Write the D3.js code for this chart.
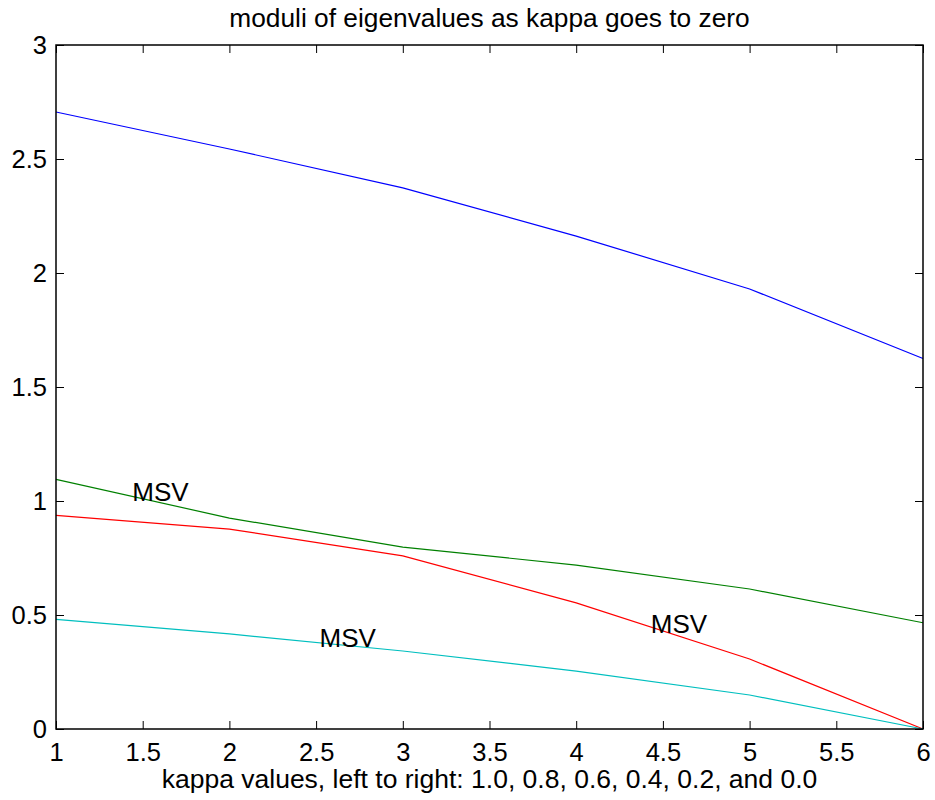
<!DOCTYPE html>
<html>
<head>
<meta charset="utf-8">
<script src="https://cdn.jsdelivr.net/npm/d3@7"></script>
<style>
  body { margin: 0; background: #fff; }
  svg text { font-family: "Liberation Sans", Arial, sans-serif; fill: #000; }
</style>
</head>
<body>
<div id="chart"></div>
<script>
// x positions 1..6 correspond to kappa 1.0, 0.8, ..., 0.0
var xs = [1, 2, 3, 4, 5, 6];
var blueVals = [2.706, 2.544, 2.373, 2.162, 1.930, 1.625];
var greenVals = [1.095, 0.925, 0.798, 0.719, 0.614, 0.466];
var redVals = [0.937, 0.877, 0.759, 0.553, 0.307, 0.0];
var cyanVals = [0.481, 0.417, 0.342, 0.254, 0.149, 0.0];
var seriesColors = ['#0000ff', '#008000', '#ff0000', '#00bfbf'];
var xTicks = [1, 1.5, 2, 2.5, 3, 3.5, 4, 4.5, 5, 5.5, 6];
var yTicks = [0, 0.5, 1, 1.5, 2, 2.5, 3];
var labelText = ['MSV', 'MSV', 'MSV'];
var labelX = [1.44, 2.52, 4.43];
var labelY = [1.04, 0.40, 0.46];

var M = {t: 45, r: 12, b: 71, l: 56};
var W = 935 - M.l - M.r, H = 800 - M.t - M.b;

var svg = d3.select('#chart').append('svg')
    .attr('width', 935).attr('height', 800);
var g = svg.append('g').attr('transform', 'translate(' + M.l + ',' + M.t + ')');

var scaleX = d3.scaleLinear().domain([1, 6]).range([0, W]);
var scaleY = d3.scaleLinear().domain([0, 3]).range([H, 0]);

var fmt = function(d) { return d3.format('')(d); };

// axes: ticks pointing inward, mirrored on top and right
var axB = g.append('g').attr('transform', 'translate(0,' + H + ')')
    .call(d3.axisBottom(scaleX).tickValues(xTicks).tickSize(-8).tickPadding(14).tickFormat(fmt));
var axT = g.append('g')
    .call(d3.axisTop(scaleX).tickValues(xTicks).tickSize(-8).tickFormat(''));
var axL = g.append('g')
    .call(d3.axisLeft(scaleY).tickValues(yTicks).tickSize(-8).tickPadding(9).tickFormat(fmt));
var axR = g.append('g').attr('transform', 'translate(' + W + ',0)')
    .call(d3.axisRight(scaleY).tickValues(yTicks).tickSize(-8).tickFormat(''));

[axB, axT, axL, axR].forEach(function(a) {
  a.select('.domain').remove();
  a.selectAll('line').attr('stroke', '#000').attr('stroke-width', 1);
  a.selectAll('text').style('font-size', '25.5px').style('font-family', '"Liberation Sans", Arial, sans-serif').attr('fill', '#000');
});
axL.selectAll('text').attr('dy', '0.35em');

var line = d3.line()
    .x(function(d) { return scaleX(d[0]); })
    .y(function(d) { return scaleY(d[1]); });

[blueVals, greenVals, redVals, cyanVals].forEach(function(vals, i) {
  g.append('path')
    .datum(xs.map(function(x, j) { return [x, vals[j]]; }))
    .attr('d', line)
    .attr('fill', 'none')
    .attr('stroke', seriesColors[i])
    .attr('stroke-width', 1.2);
});

// frame
g.append('rect').attr('x', 0).attr('y', 0).attr('width', W).attr('height', H)
  .attr('fill', 'none').attr('stroke', '#000').attr('stroke-width', 1.5);

labelText.forEach(function(t, i) {
  g.append('text')
    .attr('x', scaleX(labelX[i]))
    .attr('y', scaleY(labelY[i]))
    .attr('dy', '0.35em')
    .style('font-size', '26px')
    .text(t);
});

svg.append('text')
  .attr('x', M.l + W / 2).attr('y', 27)
  .attr('text-anchor', 'middle')
  .style('font-size', '26.3px')
  .text('moduli of eigenvalues as kappa goes to zero');

svg.append('text')
  .attr('x', M.l + W / 2).attr('y', 788)
  .attr('text-anchor', 'middle')
  .style('font-size', '26.5px')
  .text('kappa values, left to right: 1.0, 0.8, 0.6, 0.4, 0.2, and 0.0');
</script>
</body>
</html>
